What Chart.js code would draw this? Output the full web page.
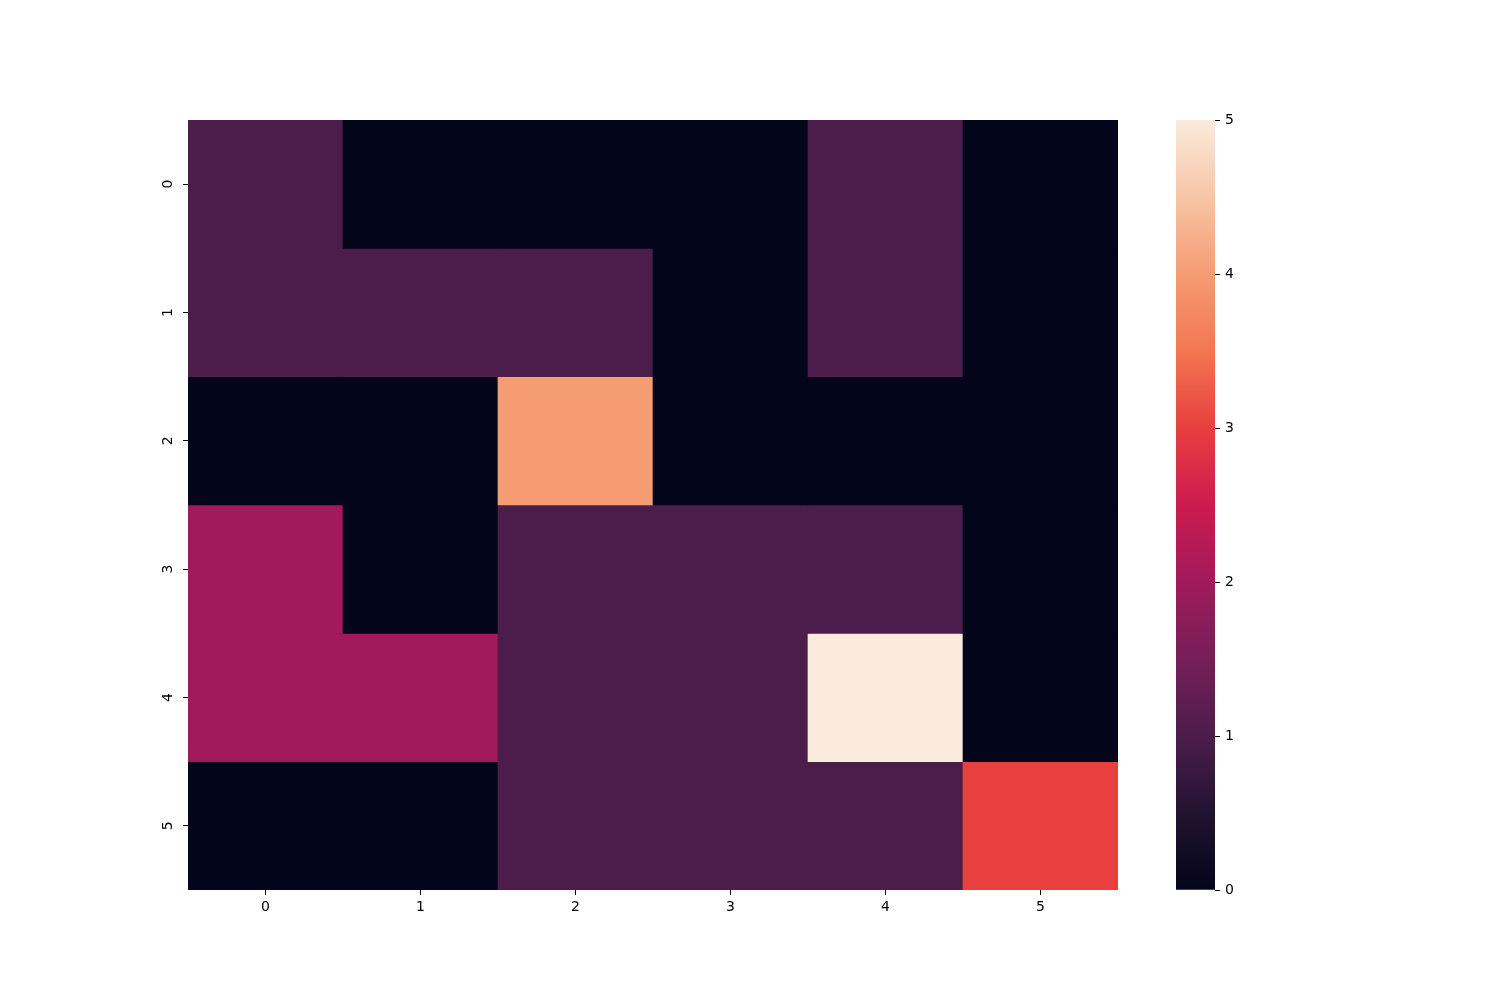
<!DOCTYPE html>
<html>
<head>
<meta charset="utf-8">
<script src="https://cdn.jsdelivr.net/npm/chart.js@4.4.0/dist/chart.umd.min.js"></script>
<style>
    html, body { margin: 0; padding: 0; background: #fff; }
    #wrap { position: relative; width: 1500px; height: 1000px; }
    #wrap canvas { position: absolute; left: 0; top: 0; }
</style>
</head>
<body>
<div id="wrap">
    <canvas id="heat" width="1500" height="1000"></canvas>
    <canvas id="cbar" width="1500" height="1000"></canvas>
</div>
<script>
// Data (rows top to bottom)
const xLabels = ['0', '1', '2', '3', '4', '5'];
const yLabels = ['0', '1', '2', '3', '4', '5'];
const row0 = [1, 0, 0, 0, 1, 0];
const row1 = [1, 1, 1, 0, 1, 0];
const row2 = [0, 0, 4, 0, 0, 0];
const row3 = [2, 0, 1, 1, 1, 0];
const row4 = [2, 2, 1, 1, 5, 0];
const row5 = [0, 0, 1, 1, 1, 3];
const rows = [row0, row1, row2, row3, row4, row5];
const cbarTicks = [0, 1, 2, 3, 4, 5];
const vmin = 0;
const vmax = 5;

// rocket colormap stops
const rocket = ['#03051a', '#221331', '#4c1d4b', '#751f58', '#a11a5b', '#cb1b4f',
                '#e83f3f', '#f37651', '#f69c73', '#f7c5a5', '#faebdd'];

function hexToRgb(h) {
    return [parseInt(h.slice(1, 3), 16), parseInt(h.slice(3, 5), 16), parseInt(h.slice(5, 7), 16)];
}

function colorFor(v) {
    const t = Math.min(1, Math.max(0, (v - vmin) / (vmax - vmin))) * (rocket.length - 1);
    const i = Math.min(rocket.length - 2, Math.floor(t));
    const f = t - i;
    const a = hexToRgb(rocket[i]), b = hexToRgb(rocket[i + 1]);
    const c = a.map((x, k) => Math.round(x + (b[k] - x) * f));
    return `rgb(${c[0]}, ${c[1]}, ${c[2]})`;
}

const font = { family: 'DejaVu Sans', size: 14 };
const tickGrid = {
    display: true,
    drawOnChartArea: false,
    drawTicks: true,
    tickLength: 5,
    tickWidth: 1,
    tickColor: '#000',
    offset: false,
};

// Heatmap: one floating bar dataset per row
const heatDatasets = rows.map((vals, r) => ({
    data: vals.map(() => [r - 0.5, r + 0.5]),
    backgroundColor: vals.map(colorFor),
    borderWidth: 0,
    barPercentage: 1,
    categoryPercentage: 1,
    grouped: false,
}));

new Chart(document.getElementById('heat'), {
    type: 'bar',
    data: { labels: xLabels, datasets: heatDatasets },
    options: {
        responsive: false,
        animation: false,
        layout: { padding: { left: 0, top: 120, right: 382, bottom: 0 } },
        plugins: { legend: { display: false }, tooltip: { enabled: false } },
        scales: {
            x: {
                type: 'category',
                offset: true,
                grid: tickGrid,
                border: { display: false },
                ticks: { color: '#000', font, padding: 4, maxRotation: 0 },
                afterFit: (s) => { s.height = 110; },
            },
            y: {
                type: 'linear',
                reverse: true,
                min: -0.5,
                max: 5.5,
                grid: tickGrid,
                border: { display: false },
                afterBuildTicks: (s) => { s.ticks = yLabels.map((l, i) => ({ value: i })); },
                ticks: {
                    color: '#000',
                    font,
                    padding: 10,
                    minRotation: 90,
                    maxRotation: 90,
                    crossAlign: 'center',
                    callback: (v, i) => yLabels[i],
                },
                afterFit: (s) => { s.width = 188; },
            },
        },
    },
});

// Colorbar
new Chart(document.getElementById('cbar'), {
    type: 'bar',
    data: {
        labels: [''],
        datasets: [{
            data: [[vmin, vmax]],
            borderWidth: 0,
            barPercentage: 1,
            categoryPercentage: 1,
            backgroundColor: (ctx) => {
                const chart = ctx.chart;
                const y = chart.scales.y;
                if (!chart.chartArea || !y) return rocket[0];
                const g = chart.ctx.createLinearGradient(0, y.getPixelForValue(vmin), 0, y.getPixelForValue(vmax));
                rocket.forEach((c, i) => g.addColorStop(i / (rocket.length - 1), c));
                return g;
            },
        }],
    },
    options: {
        responsive: false,
        animation: false,
        layout: { padding: { left: 1176, top: 120, right: 235, bottom: 110 } },
        plugins: { legend: { display: false }, tooltip: { enabled: false } },
        scales: {
            x: { display: false },
            y: {
                position: 'right',
                min: vmin,
                max: vmax,
                grid: tickGrid,
                border: { display: false },
                afterBuildTicks: (s) => { s.ticks = cbarTicks.map(v => ({ value: v })); },
                ticks: { color: '#000', font, padding: 5 },
                afterFit: (s) => { s.width = 50; },
            },
        },
    },
});
</script>
</body>
</html>
